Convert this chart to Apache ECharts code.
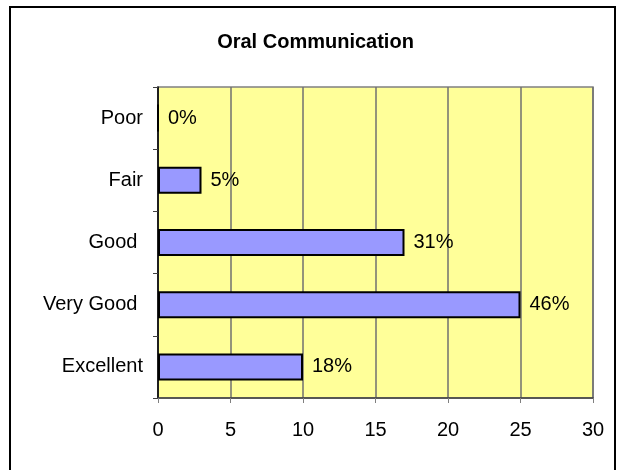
<!DOCTYPE html>
<html>
	<head>
		<meta charset="utf-8">
		<script src="https://cdn.jsdelivr.net/npm/echarts@6/dist/echarts.min.js"></script>
		<title></title>
	</head>
	<body style="margin:0;">
		<div id="main" style="width: 631px;height:470px;"></div>
		<script type="text/javascript">
			// data
			var categories = ['Poor', 'Fair', 'Good ', 'Very Good ', 'Excellent'];
			var counts = [0, 3, 17, 25, 10];
			var percents = ['0%', '5%', '31%', '46%', '18%'];

			var myChart = echarts.init(document.getElementById('main'));

			var option = {
				backgroundColor: '#ffffff',
				animation: false,
				title: {
					text: 'Oral Communication',
					left: 'center',
					top: 27,
					textStyle: {
						fontFamily: 'Liberation Sans, Arial',
						fontSize: 20,
						fontWeight: 'bold',
						color: '#000'
					}
				},
				graphic: [{
					type: 'rect',
					shape: { x: 10, y: 7, width: 605, height: 480 },
					style: { fill: 'none', stroke: '#000', lineWidth: 2 },
					z: 100
				}],
				grid: {
					left: 158,
					top: 87,
					right: 38,
					bottom: 72,
					show: true,
					backgroundColor: '#ffff99',
					borderColor: '#808080',
					borderWidth: 1.5
				},
				xAxis: {
					type: 'value',
					min: 0,
					max: 30,
					interval: 5,
					axisLine: { show: true, lineStyle: { color: '#404040', width: 1.5 } },
					axisTick: { show: true, length: 5, lineStyle: { color: '#808080' } },
					axisLabel: {
						margin: 22,
						fontFamily: 'Liberation Sans, Arial',
						fontSize: 20,
						color: '#000'
					},
					splitLine: { show: true, lineStyle: { color: '#707070', width: 1.5 } }
				},
				yAxis: {
					type: 'category',
					inverse: true,
					data: categories,
					axisLine: { show: true, lineStyle: { color: '#000', width: 1.5 } },
					axisTick: { show: true, length: 5, lineStyle: { color: '#404040' } },
					axisLabel: {
						margin: 15,
						fontFamily: 'Liberation Sans, Arial',
						fontSize: 20,
						color: '#000'
					}
				},
				series: [{
					type: 'bar',
					data: counts,
					barWidth: 27,
					itemStyle: {
						color: '#9999ff',
						borderColor: '#000',
						borderWidth: 2
					},
					label: {
						show: true,
						position: 'right',
						distance: 9,
						fontFamily: 'Liberation Sans, Arial',
						fontSize: 20,
						color: '#000',
						formatter: function (p) { return percents[p.dataIndex]; }
					}
				}]
			};

			myChart.setOption(option);
		</script>
	</body>
</html>
